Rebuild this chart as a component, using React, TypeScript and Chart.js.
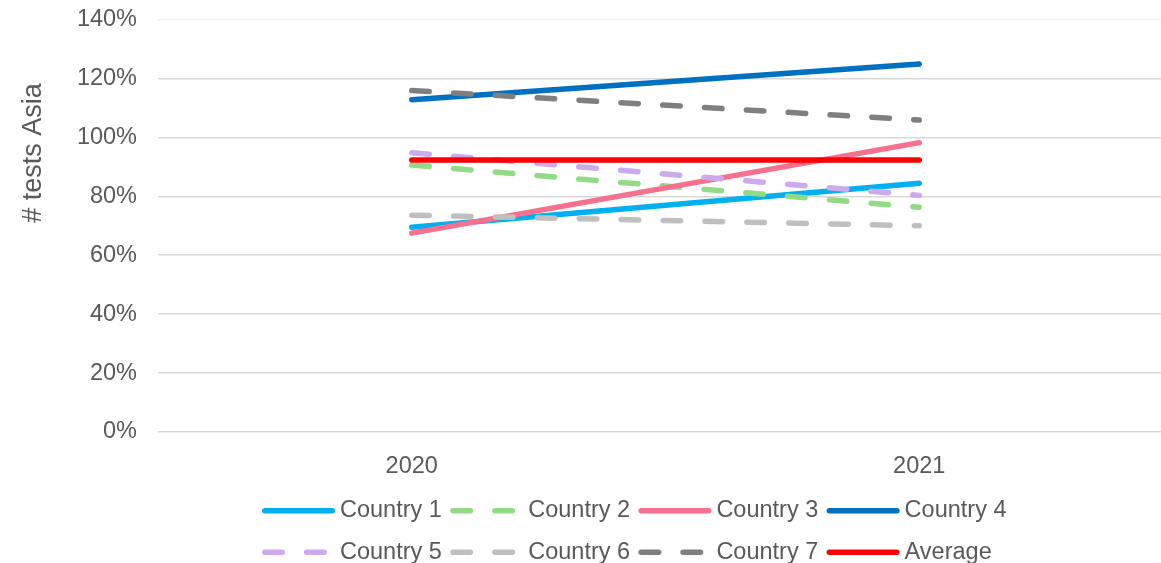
import { useEffect, useRef } from 'react';
import { Chart, registerables } from 'chart.js';

Chart.register(...registerables);

// ---- data ----
const years = ['2020', '2021'];
const seriesNames = ['Country 1', 'Country 2', 'Country 3', 'Country 4', 'Country 5', 'Country 6', 'Country 7', 'Average'];
const country1 = [0.695, 0.844];
const country2 = [0.906, 0.763];
const country3 = [0.675, 0.982];
const country4 = [1.128, 1.249];
const country5 = [0.948, 0.803];
const country6 = [0.736, 0.7];
const country7 = [1.159, 1.059];
const average = [0.923, 0.923];
const seriesValues = [country1, country2, country3, country4, country5, country6, country7, average];
const seriesColors = ['#00B0F0', '#92DB85', '#F7718F', '#0070C0', '#CDA9ED', '#BFBFBF', '#7F7F7F', '#FF0000'];
const seriesDashed = [false, true, false, false, true, true, true, false];
const yMin = 0;
const yMax = 1.4;
const yStep = 0.2;
const yTitle = '# tests Asia';

// ---- styling ----
const FONT = '"Liberation Sans", Arial, sans-serif';
const TEXT = '#595959';
const DASH = [17.5, 24.4];
const LINE_W = 5.5;

const CANVAS_W = 1173;
const CANVAS_H = 563;

const legendPlugin = {
  id: 'excelLegend',
  afterDraw(chart: any) {
    const ctx = chart.ctx as CanvasRenderingContext2D;
    const cols = 4;
    const colW = 188.2;
    const rowH = 41.6;
    const left = 264.75;
    const top = 510.7;
    const lineLen = 67.5;
    const textGap = 75.25;
    ctx.save();
    ctx.font = `23.5px ${FONT}`;
    ctx.textBaseline = 'middle';
    ctx.textAlign = 'left';
    chart.data.datasets.forEach((ds: any, i: number) => {
      const col = i % cols;
      const row = Math.floor(i / cols);
      const x0 = left + col * colW;
      const y = top + row * rowH;
      ctx.beginPath();
      ctx.strokeStyle = ds.borderColor;
      ctx.lineWidth = ds.borderWidth;
      ctx.lineCap = 'round';
      ctx.setLineDash(ds.borderDash || []);
      ctx.moveTo(x0, y);
      ctx.lineTo(x0 + lineLen, y);
      ctx.stroke();
      ctx.setLineDash([]);
      ctx.fillStyle = TEXT;
      ctx.fillText(ds.label, x0 + textGap, y);
    });
    ctx.restore();
  },
};

const yTitlePlugin = {
  id: 'yTitle',
  afterDraw(chart: any) {
    const ctx = chart.ctx as CanvasRenderingContext2D;
    ctx.save();
    ctx.translate(34, 153);
    ctx.rotate(-Math.PI / 2);
    ctx.font = `27px ${FONT}`;
    ctx.fillStyle = TEXT;
    ctx.textAlign = 'center';
    ctx.textBaseline = 'middle';
    ctx.fillText(yTitle, 0, 0);
    ctx.restore();
  },
};

export default function App() {
  const ref = useRef<HTMLCanvasElement>(null);

  useEffect(() => {
    const canvas = ref.current;
    if (!canvas) return;
    const chart = new Chart(canvas, {
      type: 'line',
      data: {
        labels: years,
        datasets: seriesNames.map((name, i) => ({
          label: name,
          data: seriesValues[i],
          borderColor: seriesColors[i],
          backgroundColor: seriesColors[i],
          borderWidth: LINE_W,
          borderDash: seriesDashed[i] ? DASH : [],
          borderCapStyle: 'round',
          borderJoinStyle: 'round',
          pointRadius: 0,
          pointHoverRadius: 0,
          fill: false,
          tension: 0,
          order: seriesNames.length - i,
        })),
      },
      options: {
        responsive: false,
        animation: false,
        devicePixelRatio: 1,
        layout: { padding: { top: 19.5, left: 0, right: 0, bottom: 71 } },
        plugins: {
          legend: { display: false },
          tooltip: { enabled: false },
          title: { display: false },
        },
        scales: {
          x: {
            type: 'category',
            offset: true,
            grid: { display: false, drawTicks: false },
            border: { display: false },
            ticks: {
              color: TEXT,
              font: { family: FONT, size: 23.5 },
              padding: 20.5,
              maxRotation: 0,
            },
            afterFit(scale: any) {
              scale.height = 60;
            },
          },
          y: {
            min: yMin,
            max: yMax,
            grid: {
              color: (c: any) => (c.tick && Math.abs(c.tick.value - yMax) < 1e-6 ? '#F1F1F1' : '#D9D9D9'),
              lineWidth: 1.5,
              drawTicks: true,
              tickLength: 21,
              tickColor: 'rgba(0,0,0,0)',
            },
            border: { display: false },
            ticks: {
              stepSize: yStep,
              color: TEXT,
              font: { family: FONT, size: 23.5 },
              padding: 0,
              callback: (v: any) => `${Math.round(Number(v) * 100)}%`,
            },
            afterFit(scale: any) {
              scale.width = 158;
            },
          },
        },
      },
      plugins: [legendPlugin, yTitlePlugin],
    } as any);
    return () => chart.destroy();
  }, []);

  return (
    <div
      style={{
        position: 'absolute',
        left: 0,
        top: 0,
        width: 1161,
        height: 563,
        overflow: 'hidden',
        background: '#ffffff',
      }}
    >
      <canvas ref={ref} width={CANVAS_W} height={CANVAS_H} style={{ display: 'block' }} />
    </div>
  );
}
